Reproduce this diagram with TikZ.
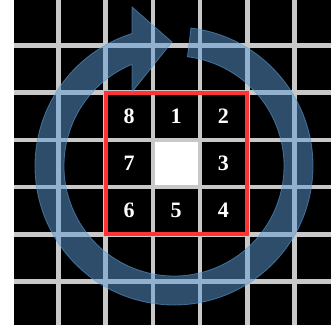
\documentclass[tikz,border=0pt]{standalone}
\usepackage{fontspec}
\setmainfont{Liberation Serif}
\usetikzlibrary{positioning}
\definecolor{gridgrey}{RGB}{200,200,200}
\definecolor{boxred}{RGB}{255,51,51}
\definecolor{ringblue}{RGB}{91,155,213}

\begin{document}
\begin{tikzpicture}[x=1pt,y=1pt,
    gridline/.style={gridgrey,line width=4.6pt},
    cellnum/.style={text=white,font=\fontsize{22}{22}\selectfont\bfseries},
    ring/.style={fill=ringblue,fill opacity=0.5,draw=ringblue,draw opacity=0.6,line width=0.8pt}]
    \useasboundingbox (0,0) rectangle (331,334);

    % pixel grid
    \fill[black] (14,9) rectangle (331,334);
    \fill[white] (152.6,147.1) rectangle (199.8,194.3);
    \foreach \i in {0,...,5} {
      \draw[gridline] (58.5+47.2*\i,9) -- (58.5+47.2*\i,334);
      \draw[gridline] (14,288.5-47.2*\i) -- (331,288.5-47.2*\i);
    }

    % neighbour numbers
    \node[cellnum] (n8) at (129.1,217.7) {8};
    \node[cellnum] (n1) at (176.2,217.7) {1};
    \node[cellnum] (n2) at (223.4,217.7) {2};
    \node[cellnum] (n7) at (129.1,170.5) {7};
    \node[cellnum] (n3) at (223.4,170.5) {3};
    \node[cellnum] (n6) at (129.1,123.3) {6};
    \node[cellnum] (n5) at (176.2,123.3) {5};
    \node[cellnum] (n4) at (223.4,123.3) {4};

    \draw[boxred,line width=4pt] (105.7,99.7) rectangle (247.3,241.3);

    % clockwise arrow
    \coordinate (c) at (174,168);
    \draw[ring] ([shift={(83:139)}]c) arc[start angle=83,end angle=-252.4,radius=139]
      -- (132,327) -- (172,292) -- (132,242)
      -- ([shift={(-247.6:110)}]c) arc[start angle=-247.6,end angle=83,radius=110] -- cycle;
\end{tikzpicture}
\end{document}
